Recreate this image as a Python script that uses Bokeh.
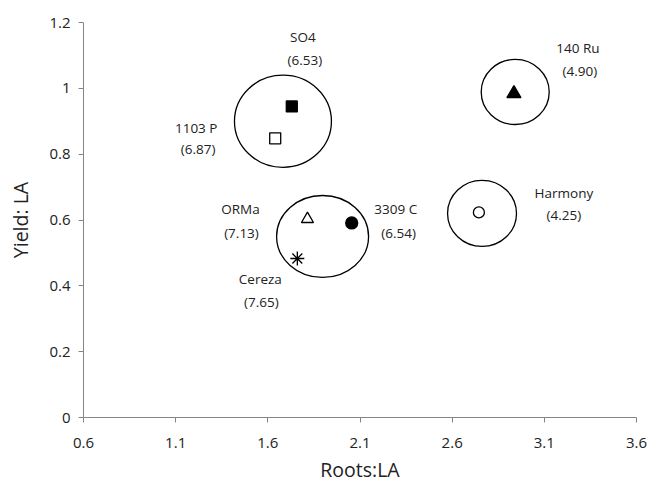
from bokeh.plotting import figure
from bokeh.models import Range1d, FixedTicker, ColumnDataSource, CustomJSTickFormatter
from bokeh.embed import file_html
from bokeh.resources import INLINE
from bokeh.core.properties import value

# ---- data ----
cultivars = ["SO4", "1103 P", "ORMa", "3309 C", "Cereza", "140 Ru", "Harmony"]
roots_la = [1.73, 1.64, 1.815, 2.055, 1.76, 2.935, 2.745]
yield_la = [0.945, 0.848, 0.603, 0.591, 0.483, 0.984, 0.623]
vigor = ["(6.53)", "(6.87)", "(7.13)", "(6.54)", "(7.65)", "(4.90)", "(4.25)"]

# groups (circled clusters)
group_x = [1.682, 1.897, 2.942, 2.762]
group_y = [0.900, 0.550, 0.989, 0.620]
group_w = [0.526, 0.499, 0.369, 0.374]
group_h = [0.280, 0.249, 0.198, 0.201]

x_ticks = [0.6, 1.1, 1.6, 2.1, 2.6, 3.1, 3.6]
y_ticks = [0, 0.2, 0.4, 0.6, 0.8, 1.0, 1.2]

# ---- styles ----
markers = ["square", "square", "triangle", "circle", "asterisk", "triangle", "circle"]
fills = ["black", "white", "white", "black", None, "black", "white"]
sizes = [11, 11, 12, 12, 14, 14, 11]
name_dx = [11, -79, -67, 44, -37, 64, 85]
name_dy = [-69, -10, -10, -14, 20, -46, -19]
val_dx = [13, -77, -66, 47, -36, 66, 85]
val_dy = [-46, 11, 14, 10, 43, -23, 3]

FONT = "Open Sans"

p = figure(width=648, height=480, frame_width=553, frame_height=395,
           min_border_left=83, min_border_right=12, min_border_top=22, min_border_bottom=63,
           x_range=Range1d(0.6, 3.6), y_range=Range1d(0, 1.2),
           output_backend="svg", toolbar_location=None)

p.outline_line_color = None
p.xgrid.visible = False
p.ygrid.visible = False
p.background_fill_color = "white"
p.border_fill_color = "white"

fmt = CustomJSTickFormatter(code="return tick.toFixed(1).replace(/\\.0$/, '');")
for ax, ticks in ((p.xaxis[0], x_ticks), (p.yaxis[0], y_ticks)):
    ax.ticker = FixedTicker(ticks=ticks)
    ax.formatter = fmt
    ax.axis_line_color = "#868686"
    ax.major_tick_line_color = "#868686"
    ax.major_tick_out = 5
    ax.major_tick_in = 0
    ax.minor_tick_line_color = None
    ax.major_label_text_font = FONT
    ax.major_label_text_font_size = "15px"
    ax.major_label_text_color = "#222222"
    ax.axis_label_text_font = FONT
    ax.axis_label_text_font_size = "19.5px"
    ax.axis_label_text_font_style = "normal"
    ax.axis_label_text_color = "#222222"

p.xaxis.axis_label = "Roots:LA"
p.yaxis.axis_label = "Yield: LA"
p.xaxis.major_label_standoff = 15
p.xaxis.axis_label_standoff = 5
p.yaxis.major_label_standoff = 8
p.yaxis.axis_label_standoff = 12

# group circles
p.ellipse(x=group_x, y=group_y, width=group_w, height=group_h,
          fill_color=None, line_color="black", line_width=1.3)

src = ColumnDataSource(dict(x=roots_la, y=yield_la, name=cultivars, vigor=vigor,
                            marker=markers, fill=fills, size=sizes,
                            ndx=name_dx, ndy=name_dy, vdx=val_dx, vdy=val_dy))

p.scatter(x="x", y="y", marker="marker", size="size", fill_color="fill",
          line_color="black", line_width=1.3, source=src)

p.text(x="x", y="y", text="name", x_offset="ndx", y_offset="ndy", source=src,
       text_align="center", text_baseline="middle", text_font=value(FONT),
       text_font_size="13.5px", text_color="#222222")
p.text(x="x", y="y", text="vigor", x_offset="vdx", y_offset="vdy", source=src,
       text_align="center", text_baseline="middle", text_font=value(FONT),
       text_font_size="13.5px", text_color="#222222")

open("out.html", "w").write(file_html(p, INLINE))
